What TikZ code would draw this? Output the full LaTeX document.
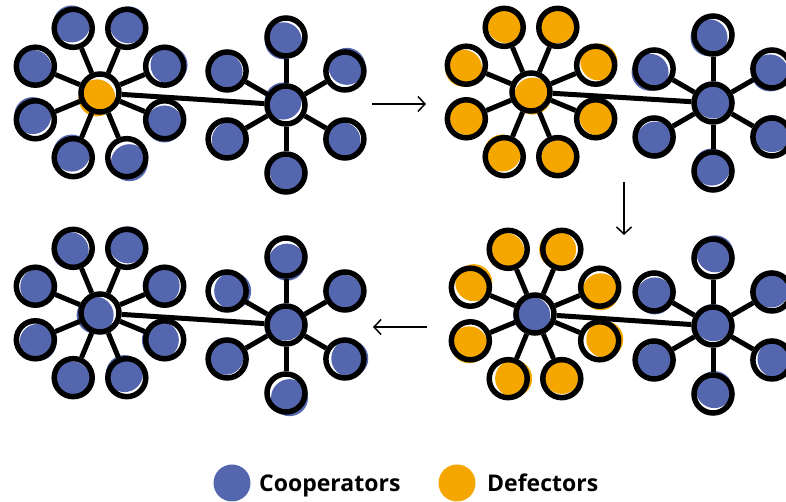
\documentclass[tikz,border=0pt]{standalone}
\usepackage{fontspec}
\usepackage{tikz}
\usetikzlibrary{arrows.meta}
\newfontfamily\legendfont{Open Sans}
\definecolor{coop}{HTML}{5467AE}
\definecolor{defect}{HTML}{F5A700}

% one player: coloured disc, a little off centre, under a black ring
\newcommand{\agent}[4]{%
  \pgfmathsetmacro\jitA{360*rnd}%
  \pgfmathsetmacro\jitR{2.5+3.5*rnd}%
  \fill[#4] ([shift={(\jitA:\jitR)}]#2,#3) circle (18.5pt);
  \node[agent] (#1) at (#2,#3) {};
}

\tikzset{
  agent/.style={circle,draw=black,line width=5.5pt,minimum size=38pt,inner sep=0pt},
  link/.style={line width=5pt},
  flow/.style={-{Straight Barb[length=7pt,width=15pt]},line width=1.5pt},
  legdot/.style={circle,minimum size=37pt,inner sep=0pt},
  legtext/.style={anchor=base west,inner sep=0pt,font=\legendfont\bfseries\fontsize{23}{27}\selectfont}
}

\begin{document}
\begin{tikzpicture}[x=1pt,y=1pt]
  \useasboundingbox (0,0) rectangle (786,502);
  \pgfmathsetseed{11}
  % panels: number / left hub / right hub / colours
  \foreach \p/\lx/\ly/\rx/\ry/\hubcol/\leafcol in
      {1/100/409/286/397/defect/coop,
       2/531/410/713/399/defect/defect,
       3/535/188/713/176/coop/defect,
       4/100/189/286/177/coop/coop} {
    \agent{p\p L}{\lx}{\ly}{\hubcol}
    \agent{p\p R}{\rx}{\ry}{coop}
    \foreach \a [count=\i] in {22.5,67.5,...,337.5} {
      \pgfmathsetmacro\nx{\lx+70*cos(\a)}
      \pgfmathsetmacro\ny{\ly+70*sin(\a)}
      \agent{p\p L\i}{\nx}{\ny}{\leafcol}
      \draw[link] (p\p L) -- (p\p L\i);
    }
    \foreach \a [count=\i] in {30,90,...,330} {
      \pgfmathsetmacro\nx{\rx+68*cos(\a)}
      \pgfmathsetmacro\ny{\ry+68*sin(\a)}
      \agent{p\p R\i}{\nx}{\ny}{coop}
      \draw[link] (p\p R) -- (p\p R\i);
    }
    \draw[link] (p\p L) -- (p\p R);
  }
  % time steps
  \coordinate (s1a) at (372,398);
  \coordinate (s1b) at (426,398);
  \coordinate (s2a) at (624,320);
  \coordinate (s2b) at (624,267);
  \coordinate (s3a) at (427,175);
  \coordinate (s3b) at (373,175);
  \draw[flow] (s1a) -- (s1b);
  \draw[flow] (s2a) -- (s2b);
  \draw[flow] (s3a) -- (s3b);
  % legend
  \node[legdot,fill=coop] (coopkey) at (232,19) {};
  \node[legtext] (cooplabel) at (259,10) {Cooperators};
  \node[legdot,fill=defect] (defectkey) at (457,19) {};
  \node[legtext] (defectlabel) at (487,10) {Defectors};
\end{tikzpicture}
\end{document}
